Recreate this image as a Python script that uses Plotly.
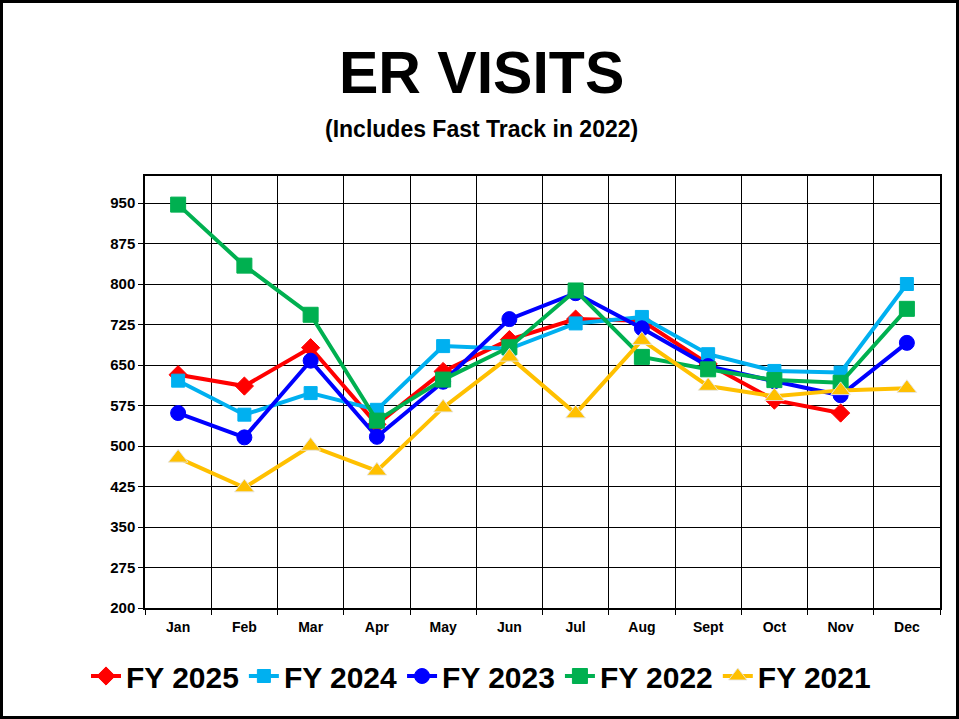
import plotly.graph_objects as go

months = ["Jan", "Feb", "Mar", "Apr", "May", "Jun", "Jul", "Aug", "Sept", "Oct", "Nov", "Dec"]

fy2025 = [632, 611, 682, 540, 638, 697, 735, 732, 652, 585, 561, None]
fy2024 = [621, 558, 598, 567, 685, 680, 727, 739, 670, 639, 636, 800]
fy2023 = [561, 516, 658, 517, 619, 735, 783, 718, 648, 620, 594, 691]
fy2022 = [947, 834, 743, 547, 623, 683, 788, 665, 642, 622, 617, 754]
fy2021 = [478, 423, 500, 454, 571, 665, 560, 696, 611, 592, 603, 607]

series = [
    ("FY 2025", fy2025, "#FF0000", "diamond", 14),
    ("FY 2024", fy2024, "#00B0F0", "square", 13),
    ("FY 2023", fy2023, "#0000FF", "circle", 15),
    ("FY 2022", fy2022, "#00B050", "square", 15),
    ("FY 2021", fy2021, "#FFC000", "triangle-up", 17),
]

y_ticks = list(range(200, 951, 75))

W, H = 959, 719
ML, MR, MT, MB = 145, 19, 176, 111
PW, PH = W - ML - MR, H - MT - MB

fig = go.Figure()
for name, vals, color, sym, size in series:
    fig.add_trace(go.Scatter(
        x=months, y=vals, name=name, mode="lines+markers",
        line=dict(color=color, width=4),
        marker=dict(color=color, symbol=sym, size=size,
                    line=dict(width=1, color="rgba(230,230,230,0.9)" if sym == "triangle-up" else color)),
        connectgaps=False,
    ))

font = "Liberation Sans, Arial, sans-serif"

fig.update_layout(
    width=W, height=H,
    margin=dict(l=ML, r=MR, t=MT, b=MB, pad=0),
    paper_bgcolor="white", plot_bgcolor="white",
    font=dict(family=font, color="black"),
    showlegend=True,
    legend=dict(
        orientation="h", x=(481 - ML) / PW, xanchor="center",
        y=(MT + PH - 676) / PH, yanchor="middle",
        font=dict(size=30, family=font, color="black", weight="bold"),
        itemwidth=30, tracegroupgap=0, bgcolor="rgba(0,0,0,0)",
    ),
    xaxis=dict(
        type="category", tickson="boundaries", showgrid=True,
        gridcolor="black", gridwidth=1,
        showline=True, linecolor="black", linewidth=1.5, mirror=True,
        ticks="outside", ticklen=5, tickcolor="black",
        ticklabelstandoff=5,
        tickfont=dict(size=14, family=font, color="black", weight="bold"),
        range=[-0.5, 11.5], fixedrange=True,
    ),
    yaxis=dict(
        range=[200, 1000], tickvals=y_ticks, ticktext=[str(v) for v in y_ticks],
        showgrid=True, gridcolor="black", gridwidth=1,
        showline=True, linecolor="black", linewidth=1.5, mirror=True,
        ticks="outside", ticklen=5, tickcolor="black",
        tickfont=dict(size=15, family=font, color="black", weight="bold"),
        zeroline=False, fixedrange=True,
    ),
    annotations=[
        dict(text="<b>ER VISITS</b>", xref="paper", yref="paper",
             x=(481 - ML) / PW, y=(MT + PH - 73) / PH, xanchor="center", yanchor="middle",
             showarrow=False, font=dict(size=59, family=font, color="black")),
        dict(text="<b>(Includes Fast Track in 2022)</b>", xref="paper", yref="paper",
             x=(481 - ML) / PW, y=(MT + PH - 129) / PH, xanchor="center", yanchor="middle",
             showarrow=False, font=dict(size=23, family=font, color="black")),
    ],
    shapes=[
        dict(type="rect", xref="paper", yref="paper",
             x0=(1.5 - ML) / PW, x1=(W - 1.5 - ML) / PW,
             y0=(MT + PH - (H - 1.5)) / PH, y1=(MT + PH - 1.5) / PH,
             line=dict(color="black", width=3), fillcolor="rgba(0,0,0,0)", layer="above"),
    ],
)

fig.write_html("out.html", config={"displayModeBar": False},
               post_script="document.body.style.margin='0';document.body.style.overflow='hidden';")
